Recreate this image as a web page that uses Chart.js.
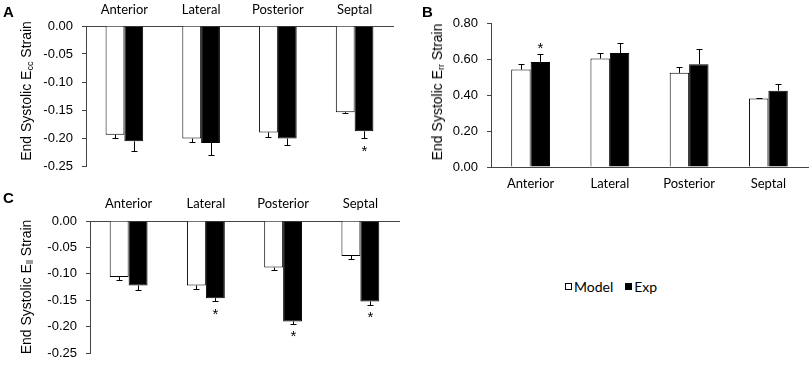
<!DOCTYPE html>
<html>
<head>
<meta charset="utf-8">
<script src="https://cdn.jsdelivr.net/npm/chart.js@4.4.1/dist/chart.umd.min.js"></script>
<style>
  html, body { margin: 0; padding: 0; background: #fff; }
  body { width: 812px; height: 370px; position: relative; overflow: hidden; font-family: "Liberation Sans", Arial, sans-serif; }
  .panel { position: absolute; }
  .letter { position: absolute; font: bold 15px "Liberation Sans", Arial, sans-serif; color: #000; line-height: 1; }
  .ytitle { position: absolute; font: 14px "Liberation Sans", Arial, sans-serif; color: #000; white-space: nowrap;
            transform: translate(-50%, -50%) rotate(-90deg); line-height: 1; }
  .ytitle sub { font-size: 9px; vertical-align: -2px; }
  .legend { position: absolute; left: 565px; top: 278px; font: 14px Lato, sans-serif; color: #000; display: flex; align-items: center; }
  .legend .box { display: inline-block; width: 5px; height: 5px; border: 1.5px solid #000; margin-right: 2px; }
  .legend .item { display: flex; align-items: center; margin-right: 12px; }
</style>
</head>
<body>
<div class="panel" style="left:0;top:0;width:410px;height:185px"><canvas id="cA" width="410" height="185"></canvas></div>
<div class="panel" style="left:410px;top:0;width:402px;height:195px"><canvas id="cB" width="402" height="195"></canvas></div>
<div class="panel" style="left:0;top:185px;width:410px;height:185px"><canvas id="cC" width="410" height="185"></canvas></div>

<div class="letter" style="left:3px;top:4px">A</div>
<div class="letter" style="left:422px;top:4px">B</div>
<div class="letter" style="left:3px;top:190px">C</div>

<div class="ytitle" style="left:27px;top:91px">End Systolic E<sub>cc</sub> Strain</div>
<div class="ytitle" style="left:438px;top:92px">End Systolic E<sub>rr</sub> Strain</div>
<div class="ytitle" style="left:27px;top:287px">End Systolic E<sub>ll</sub> Strain</div>

<div class="legend">
  <span class="item"><span class="box" style="background:#fff"></span>Model</span>
  <span class="item"><span class="box" style="background:#000"></span>Exp</span>
</div>

<script>
// ---------- Data ----------
const categories = ['Anterior', 'Lateral', 'Posterior', 'Septal'];
const seriesNames = ['Model', 'Exp'];

// Panel A: End systolic Ecc strain
const eccModel    = [-0.194, -0.201, -0.190, -0.154];
const eccModelErr = [0.006, 0.006, 0.008, 0.002];
const eccExp      = [-0.206, -0.209, -0.201, -0.188];
const eccExpErr   = [0.017, 0.021, 0.011, 0.012];
const eccSig      = [false, false, false, true];

// Panel B: End systolic Err strain
const errModel    = [0.541, 0.603, 0.523, 0.380];
const errModelErr = [0.030, 0.033, 0.033, 0.005];
const errExp      = [0.584, 0.633, 0.571, 0.424];
const errExpErr   = [0.045, 0.056, 0.082, 0.039];
const errSig      = [true, false, false, false];

// Panel C: End systolic Ell strain
const ellModel    = [-0.106, -0.122, -0.088, -0.066];
const ellModelErr = [0.006, 0.006, 0.005, 0.005];
const ellExp      = [-0.122, -0.146, -0.190, -0.152];
const ellExpErr   = [0.009, 0.006, 0.004, 0.006];
const ellSig      = [false, true, true, true];

// Tick values
const negTicks = [-0.25, -0.20, -0.15, -0.10, -0.05, 0.00];
const posTicks = [0.00, 0.20, 0.40, 0.60, 0.80];

// ---------- Plugin: error bars and significance stars ----------
const errorBarPlugin = {
  id: 'errorBars',
  afterDatasetsDraw(chart) {
    const ctx = chart.ctx;
    const y = chart.scales.y;
    ctx.save();
    chart.data.datasets.forEach((ds, di) => {
      const meta = chart.getDatasetMeta(di);
      meta.data.forEach((bar, i) => {
        const v = ds.data[i];
        const e = ds.errors[i];
        const dir = v < 0 ? -1 : 1;
        const end = v + dir * e;
        const y0 = y.getPixelForValue(v);
        const y1 = y.getPixelForValue(end);
        const x = Math.round(bar.x) + 0.5;
        ctx.strokeStyle = '#000';
        ctx.lineWidth = 1;
        ctx.beginPath();
        ctx.moveTo(x, y0);
        ctx.lineTo(x, Math.round(y1) + 0.5);
        ctx.moveTo(x - 3, Math.round(y1) + 0.5);
        ctx.lineTo(x + 3, Math.round(y1) + 0.5);
        ctx.stroke();
        if (ds.sig && ds.sig[i]) {
          ctx.fillStyle = '#000';
          ctx.font = '15px "Liberation Sans", Arial, sans-serif';
          ctx.textAlign = 'center';
          ctx.textBaseline = 'alphabetic';
          const cy = y1 - dir * 9;
          ctx.fillText('*', x, cy + 8.5);
        }
      });
    });
    ctx.restore();
  }
};

const axisColor = '#444';
const tickFont = { family: '"Liberation Sans", Arial, sans-serif', size: 13 };
const catFont = { family: 'Lato, sans-serif', size: 13 };

function makeChart(id, model, modelErr, exp, expErr, sig, ticks, negative, geom) {
  const lo = ticks[0], hi = ticks[ticks.length - 1];
  return new Chart(document.getElementById(id), {
    type: 'bar',
    data: {
      labels: categories,
      datasets: [
        { label: seriesNames[0], data: model, errors: modelErr, sig: null,
          backgroundColor: '#fff', borderColor: '#000', borderWidth: 1 },
        { label: seriesNames[1], data: exp, errors: expErr, sig: sig,
          backgroundColor: '#000', borderColor: '#000', borderWidth: 1 }
      ]
    },
    options: {
      responsive: false,
      animation: false,
      devicePixelRatio: 1,
      layout: { padding: geom.padding },
      plugins: { legend: { display: false }, tooltip: { enabled: false } },
      datasets: { bar: { categoryPercentage: 0.49, barPercentage: 1.0 } },
      scales: {
        x: {
          position: negative ? 'top' : 'bottom',
          grid: { display: true, drawOnChartArea: false, drawTicks: false, color: axisColor },
          border: { display: true, color: axisColor, width: 1 },
          ticks: { color: '#000', font: catFont, padding: geom.catPad },
          afterFit(s) { s.height = geom.xh; }
        },
        y: {
          min: lo, max: hi,
          afterBuildTicks(s) { s.ticks = ticks.map(v => ({ value: v })); },
          grid: { display: true, drawOnChartArea: false, drawTicks: true, tickLength: 4, color: axisColor },
          border: { display: true, color: axisColor, width: 1 },
          ticks: { color: '#000', font: tickFont, padding: 9,
                   callback: v => (Math.abs(v) < 1e-9 ? 0 : v).toFixed(2) },
          afterFit(s) { s.width = geom.yw; }
        }
      }
    },
    plugins: [errorBarPlugin]
  });
}

makeChart('cA', eccModel, eccModelErr, eccExp, eccExpErr, eccSig, negTicks, true,
  { padding: { left: 0, right: 17, top: 0, bottom: 19 }, xh: 26, yw: 86, catPad: 8 });
makeChart('cB', errModel, errModelErr, errExp, errExpErr, errSig, posTicks, false,
  { padding: { left: 0, right: 4, top: 23, bottom: 0 }, xh: 28, yw: 81, catPad: 9 });
makeChart('cC', ellModel, ellModelErr, ellExp, ellExpErr, ellSig, negTicks, true,
  { padding: { left: 0, right: 11, top: 0, bottom: 9 }, xh: 36, yw: 90, catPad: 9 });
</script>
</body>
</html>
